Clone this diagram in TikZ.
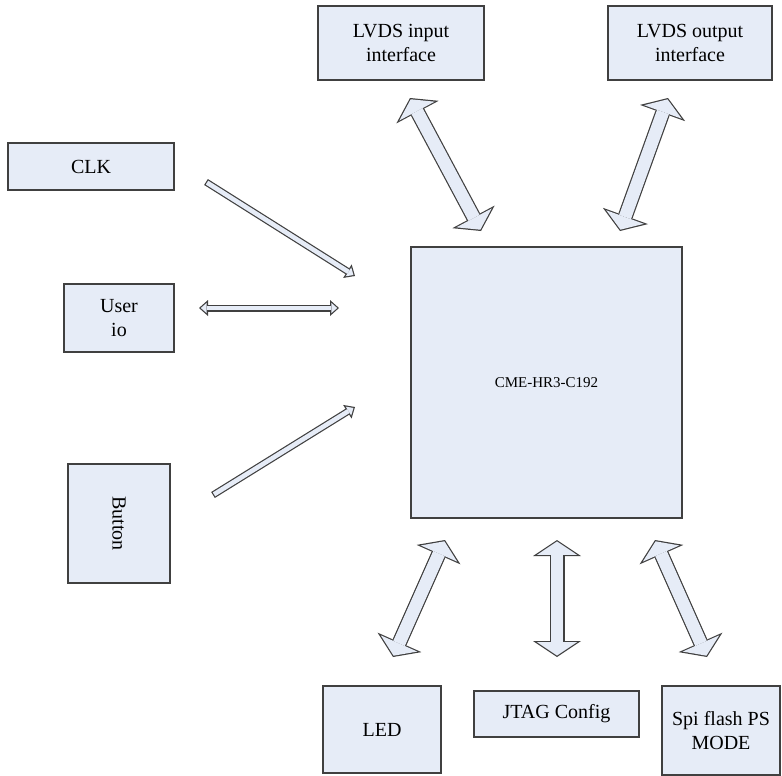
\documentclass[tikz,border=0pt]{standalone}
\usepackage{fontspec}
\setmainfont{Liberation Serif}
\usetikzlibrary{arrows.meta}

\definecolor{boxc}{RGB}{230,236,247}
\definecolor{linec}{RGB}{64,64,64}

\tikzset{
	BigOut/.tip = {Triangle[length=8pt, width=24pt, line width=0pt]},
	BigIn/.tip = {Triangle[length=6.7pt, width=20pt, line width=0pt]},
	ThinOut/.tip = {Triangle[length=4.5pt, width=8pt, line width=0pt]},
	ThinIn/.tip = {Triangle[length=2.95pt, width=5.2pt, line width=0pt]}
}

\begin{document}
\begin{tikzpicture}[x = 0.5pt, y = -0.5pt,
								blk/.style = {rectangle, draw = linec, fill = boxc,
								line width = 0.7pt, align = center, inner sep = 0pt,
								font = \rmfamily\fontsize{10}{12}\selectfont},
								bus/.style = {draw = linec, line width = 7.5pt, {BigOut}-{BigOut},
								postaction = {draw = boxc, line width = 6.3pt, {BigIn}-{BigIn},
								shorten > = 0.72pt, shorten < = 0.72pt}},
								thinbus/.style = {draw = linec, line width = 3.5pt, {ThinOut}-{ThinOut},
								postaction = {draw = boxc, line width = 2.3pt, {ThinIn}-{ThinIn},
								shorten > = 0.9pt, shorten < = 0.9pt}},
								thinarrow/.style = {draw = linec, line width = 3.5pt, -{ThinOut},
								postaction = {draw = boxc, line width = 2.3pt, -{ThinIn},
								shorten > = 0.9pt, shorten < = 0.6pt}}]

				\useasboundingbox (0,0) rectangle (782,776);

				\node [blk, minimum width = 83pt, minimum height = 37pt] (lvds_in) at (401,43) {LVDS input\\interface};
				\node [blk, minimum width = 82pt, minimum height = 37pt] (lvds_out) at (690,43) {LVDS output\\interface};
				\node [blk, minimum width = 83pt, minimum height = 23.5pt] (clk) at (91,166.5) {CLK};
				\node [blk, minimum width = 55pt, minimum height = 34pt] (user_io) at (119,318) {User\\io};
				\node [blk, minimum width = 51pt, minimum height = 59.5pt] (button) at (119,523.5) {\rotatebox{-90}{Button}};
				\node [blk, minimum width = 135.5pt, minimum height = 135.5pt,
								font = \rmfamily\fontsize{7.5}{9}\selectfont] (fpga) at (546.5,382.5) {CME-HR3-C192};
				\node [blk, minimum width = 59pt, minimum height = 43.5pt] (led) at (382,729.5) {LED};
				\node [blk, minimum width = 82.5pt, minimum height = 23pt] (jtag) at (556.5,714) {JTAG Config};
				\node [blk, minimum width = 59pt, minimum height = 44.5pt] (spi) at (721,730.5) {Spi flash PS\\MODE};

				% ends of the buses
				\coordinate (lvds_in_a) at (410,98);
				\coordinate (lvds_in_b) at (481,231);
				\coordinate (lvds_out_a) at (668,98);
				\coordinate (lvds_out_b) at (620,231);
				\coordinate (clk_a) at (206,182);
				\coordinate (clk_b) at (355,276);
				\coordinate (user_io_a) at (199,308);
				\coordinate (user_io_b) at (339,308);
				\coordinate (button_a) at (213,495);
				\coordinate (button_b) at (355,407);
				\coordinate (led_a) at (445,540);
				\coordinate (led_b) at (393,657);
				\coordinate (jtag_a) at (557,540);
				\coordinate (jtag_b) at (557,657);
				\coordinate (spi_a) at (655,540);
				\coordinate (spi_b) at (707,657);

				\draw [bus] (lvds_in_a) -- (lvds_in_b);
				\draw [bus] (lvds_out_a) -- (lvds_out_b);
				\draw [thinarrow] (clk_a) -- (clk_b);
				\draw [thinbus] (user_io_a) -- (user_io_b);
				\draw [thinarrow] (button_a) -- (button_b);
				\draw [bus] (led_a) -- (led_b);
				\draw [bus] (jtag_a) -- (jtag_b);
				\draw [bus] (spi_a) -- (spi_b);
			\end{tikzpicture}
\end{document}
